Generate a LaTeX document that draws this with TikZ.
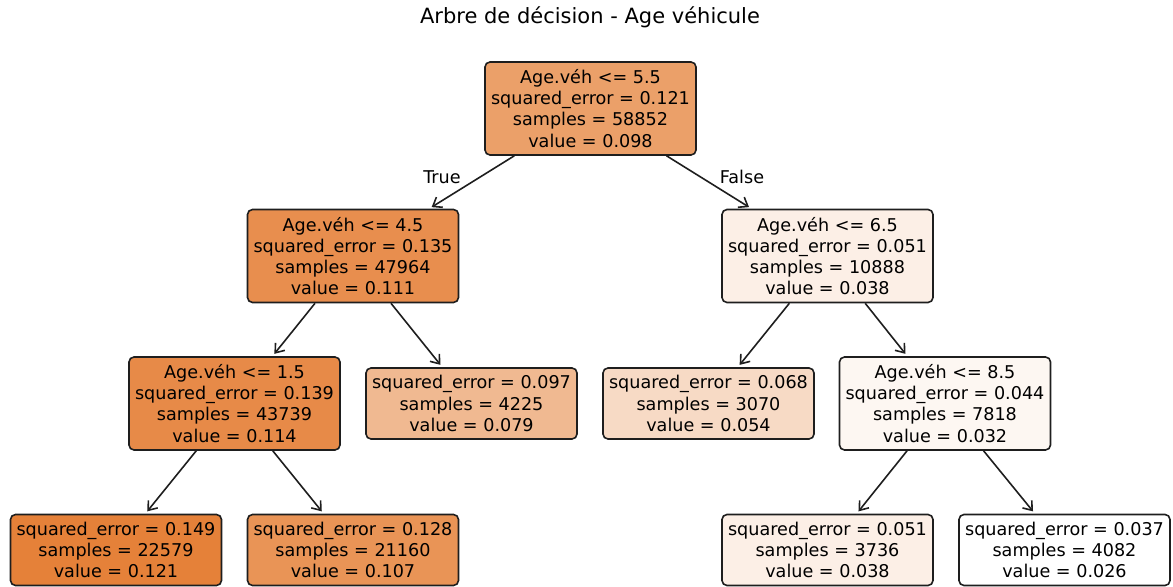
\documentclass[tikz,border=0pt]{standalone}
\usepackage{fontspec}
\setmainfont{DejaVu Sans}
\usetikzlibrary{arrows.meta}
\definecolor{c098}{RGB}{235,160,105}
\definecolor{c111}{RGB}{232,142,78}
\definecolor{c038}{RGB}{252,239,230}
\definecolor{c114}{RGB}{231,138,72}
\definecolor{c079}{RGB}{240,185,145}
\definecolor{c054}{RGB}{247,218,197}
\definecolor{c032}{RGB}{253,247,242}
\definecolor{c121}{RGB}{229,129,57}
\definecolor{c107}{RGB}{233,148,86}
\definecolor{c026}{RGB}{255,255,255}
\definecolor{edgecol}{RGB}{30,30,30}
\tikzset{
  tbox/.style={draw=edgecol, line width=0.8pt, rounded corners=2.5pt, align=center,
    minimum width=105.5pt, inner sep=0pt, font=\fontsize{8.8}{10.56}\selectfont, text=black},
  split/.style={tbox, minimum height=46.5pt},
  leaf/.style={tbox, minimum height=35.5pt},
  conn/.style={draw=edgecol, line width=0.8pt, -{Straight Barb[length=4pt,width=6pt]}, shorten >=1.5pt},
  lab/.style={font=\fontsize{8.8}{10.56}\selectfont, text=black}
}
\begin{document}
\begin{tikzpicture}[x=0.5pt,y=-0.5pt]
\useasboundingbox (0,0) rectangle (1173,587);
\node[font=\fontsize{10.5}{12.6}\selectfont] (title) at (590,17) {Arbre de décision - Age véhicule};
\node[split, fill=c098] (n0) at (590.5,108.5) {Age.véh <= 5.5\\squared\_error = 0.121\\samples = 58852\\value = 0.098};
\node[split, fill=c111] (n1) at (353,256) {Age.véh <= 4.5\\squared\_error = 0.135\\samples = 47964\\value = 0.111};
\node[split, fill=c038] (n2) at (827.5,256) {Age.véh <= 6.5\\squared\_error = 0.051\\samples = 10888\\value = 0.038};
\node[split, fill=c114] (n3) at (234.5,403.5) {Age.véh <= 1.5\\squared\_error = 0.139\\samples = 43739\\value = 0.114};
\node[leaf, fill=c079] (n4) at (471.5,403.5) {squared\_error = 0.097\\samples = 4225\\value = 0.079};
\node[leaf, fill=c054] (n5) at (708.5,403.5) {squared\_error = 0.068\\samples = 3070\\value = 0.054};
\node[split, fill=c032] (n6) at (945,403.5) {Age.véh <= 8.5\\squared\_error = 0.044\\samples = 7818\\value = 0.032};
\node[leaf, fill=c121] (n7) at (116,550) {squared\_error = 0.149\\samples = 22579\\value = 0.121};
\node[leaf, fill=c107] (n8) at (353,550) {squared\_error = 0.128\\samples = 21160\\value = 0.107};
\node[leaf, fill=c038] (n9) at (827.5,550) {squared\_error = 0.051\\samples = 3736\\value = 0.038};
\node[leaf, fill=c026] (n10) at (1064.5,550) {squared\_error = 0.037\\samples = 4082\\value = 0.026};
\draw[conn] (n0) -- (n1);
\draw[conn] (n0) -- (n2);
\draw[conn] (n1) -- (n3);
\draw[conn] (n1) -- (n4);
\draw[conn] (n2) -- (n5);
\draw[conn] (n2) -- (n6);
\draw[conn] (n3) -- (n7);
\draw[conn] (n3) -- (n8);
\draw[conn] (n6) -- (n9);
\draw[conn] (n6) -- (n10);
\node[lab] (ltrue) at (442,177) {True};
\node[lab] (lfalse) at (742,177) {False};
\end{tikzpicture}
\end{document}
